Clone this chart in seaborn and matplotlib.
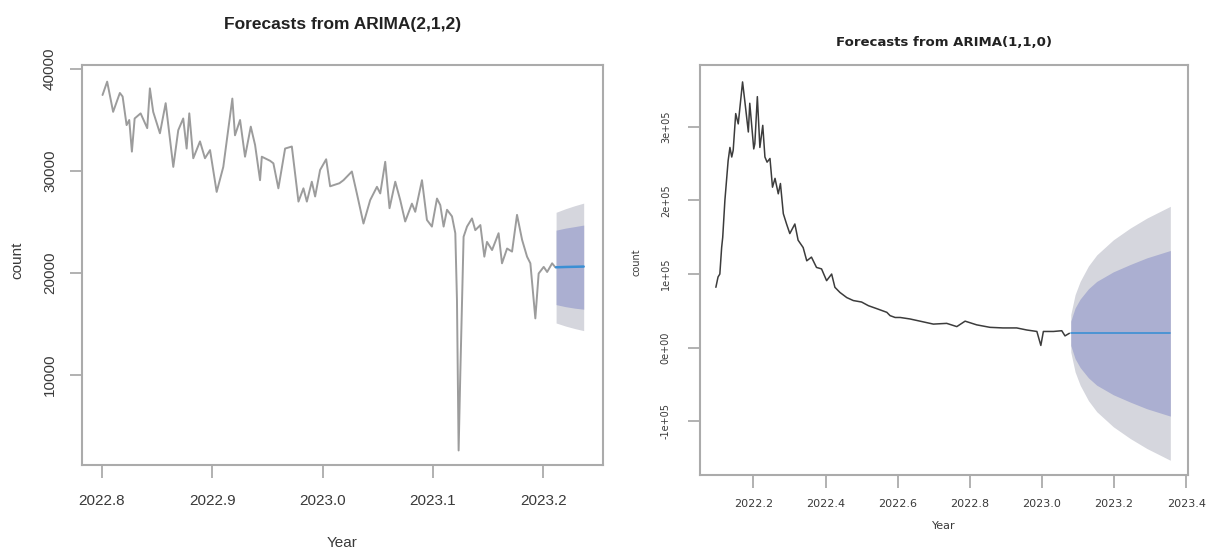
import numpy as np
import pandas as pd
import seaborn as sns
import matplotlib.pyplot as plt

# ---- left panel: ARIMA(2,1,2) on recent counts ----
left_year = [2022.8006, 2022.8048, 2022.8102, 2022.8163, 2022.8188, 2022.8224, 2022.8248, 2022.8272,
             2022.8297, 2022.8351, 2022.8411, 2022.8435, 2022.8465, 2022.8526, 2022.8578, 2022.8647,
             2022.8692, 2022.8737, 2022.8768, 2022.8792, 2022.8828, 2022.8889, 2022.8934, 2022.8980,
             2022.9040, 2022.9100, 2022.9182, 2022.9206, 2022.9252, 2022.9297, 2022.9349, 2022.9388,
             2022.9433, 2022.9449, 2022.9524, 2022.9554, 2022.9599, 2022.9660, 2022.9721, 2022.9781,
             2022.9826, 2022.9857, 2022.9902, 2022.9932, 2022.9977, 2023.0032, 2023.0068, 2023.0152,
             2023.0189, 2023.0265, 2023.0310, 2023.0370, 2023.0431, 2023.0492, 2023.0522, 2023.0567,
             2023.0606, 2023.0658, 2023.0703, 2023.0748, 2023.0809, 2023.0839, 2023.0900, 2023.0945,
             2023.0990, 2023.1036, 2023.1066, 2023.1096, 2023.1127, 2023.1172, 2023.1202, 2023.1217,
             2023.1232, 2023.1247, 2023.1277, 2023.1308, 2023.1353, 2023.1383, 2023.1429, 2023.1465,
             2023.1489, 2023.1535, 2023.1594, 2023.1625, 2023.1671, 2023.1716, 2023.1761, 2023.1807,
             2023.1852, 2023.1882, 2023.1927, 2023.1957, 2023.2003, 2023.2034, 2023.2079, 2023.2109]
left_count = [37450, 38760, 35800, 37650, 37300, 34500, 35000, 31900,
              35150, 35650, 34200, 38100, 35800, 33700, 36650, 30400,
              34000, 35150, 32200, 35650, 31250, 32900, 31250, 32050,
              27950, 30400, 37100, 33500, 35000, 31400, 34350, 32550,
              29100, 31400, 31000, 30750, 28300, 32200, 32400, 27000,
              28300, 27000, 28950, 27500, 30100, 31150, 28500, 28800,
              29100, 29950, 27800, 24850, 27150, 28450, 27800, 30900,
              26350, 28950, 27150, 25050, 26800, 26000, 29100, 25200,
              24550, 27300, 26650, 24550, 26200, 25550, 23900, 17350,
              2600, 10000, 23550, 24550, 25350, 24200, 24700, 21600,
              23050, 22250, 23900, 20950, 22400, 22100, 25700, 23250,
              21600, 20950, 15550, 19950, 20600, 20100, 20950, 20550]

left_fc_year = [2023.2115, 2023.2200, 2023.2285, 2023.2365]
left_fc_mean = [20560, 20590, 20610, 20630]
left_lo80 = [16900, 16700, 16550, 16450]
left_hi80 = [24200, 24400, 24550, 24700]
left_lo95 = [15100, 14800, 14550, 14350]
left_hi95 = [25950, 26300, 26600, 26850]

# ---- right panel: ARIMA(1,1,0) on the full series ----
right_year = [2022.096, 2022.102, 2022.107, 2022.112, 2022.115, 2022.121, 2022.130, 2022.135,
              2022.140, 2022.144, 2022.151, 2022.158, 2022.170, 2022.176, 2022.186, 2022.190,
              2022.201, 2022.204, 2022.211, 2022.218, 2022.226, 2022.232, 2022.238, 2022.246,
              2022.253, 2022.260, 2022.269, 2022.275, 2022.283, 2022.292, 2022.301, 2022.315,
              2022.324, 2022.338, 2022.348, 2022.361, 2022.375, 2022.389, 2022.403, 2022.417,
              2022.426, 2022.440, 2022.459, 2022.477, 2022.500, 2022.519, 2022.542, 2022.570,
              2022.579, 2022.593, 2022.607, 2022.634, 2022.662, 2022.699, 2022.736, 2022.764,
              2022.787, 2022.819, 2022.856, 2022.892, 2022.930, 2022.958, 2022.986, 2022.997,
              2023.004, 2023.032, 2023.055, 2023.064, 2023.076]
right_count = [0.82e5, 0.96e5, 1.00e5, 1.36e5, 1.50e5, 2.00e5, 2.54e5, 2.72e5,
               2.59e5, 2.68e5, 3.18e5, 3.04e5, 3.61e5, 3.36e5, 2.93e5, 3.32e5,
               2.70e5, 2.77e5, 3.41e5, 2.72e5, 3.02e5, 2.59e5, 2.52e5, 2.57e5,
               2.18e5, 2.30e5, 2.09e5, 2.23e5, 1.82e5, 1.68e5, 1.55e5, 1.68e5,
               1.46e5, 1.36e5, 1.18e5, 1.23e5, 1.09e5, 1.07e5, 0.91e5, 1.00e5,
               0.82e5, 0.75e5, 0.68e5, 0.64e5, 0.62e5, 0.57e5, 0.53e5, 0.48e5,
               0.435e5, 0.41e5, 0.41e5, 0.39e5, 0.36e5, 0.32e5, 0.33e5, 0.286e5,
               0.36e5, 0.31e5, 0.276e5, 0.268e5, 0.268e5, 0.24e5, 0.22e5, 0.03e5,
               0.22e5, 0.22e5, 0.23e5, 0.16e5, 0.195e5]

right_fc_year = [2023.080, 2023.092, 2023.106, 2023.129, 2023.152, 2023.198, 2023.245, 2023.291, 2023.356]
right_fc_mean = [0.195e5] * 9
right_hi95 = [0.45e5, 0.72e5, 0.90e5, 1.11e5, 1.26e5, 1.465e5, 1.625e5, 1.76e5, 1.92e5]
right_lo95 = [-0.06e5, -0.33e5, -0.51e5, -0.72e5, -0.87e5, -1.075e5, -1.235e5, -1.37e5, -1.53e5]
right_hi80 = [0.36e5, 0.54e5, 0.66e5, 0.80e5, 0.90e5, 1.03e5, 1.13e5, 1.22e5, 1.32e5]
right_lo80 = [0.03e5, -0.15e5, -0.27e5, -0.41e5, -0.51e5, -0.64e5, -0.74e5, -0.83e5, -0.93e5]

sns.set_theme(style='white')
plt.rcParams['font.family'] = ['Liberation Sans', 'DejaVu Sans']

OUTER = '#d5d6dd'
INNER = '#abafd1'
FCLINE = '#3b8fd4'
FRAME = '#ababab'
TXT = '#3a3a3a'

fig = plt.figure(figsize=(12.1, 5.5), dpi=100)
ax1 = fig.add_axes([82 / 1210, 85 / 550, 521 / 1210, 400 / 550])
ax2 = fig.add_axes([700 / 1210, 75 / 550, 488 / 1210, 410 / 550])


def style_axes(ax, lsize, fam, xpad, ypad):
    for s in ax.spines.values():
        s.set_color(FRAME)
        s.set_linewidth(1.5)
    ax.tick_params(axis='both', direction='out', length=9, width=1.3, color=FRAME,
                   labelcolor=TXT, labelsize=lsize, bottom=True, left=True)
    ax.tick_params(axis='x', pad=xpad)
    ax.tick_params(axis='y', pad=ypad)
    for lab in ax.get_xticklabels() + ax.get_yticklabels():
        lab.set_family(fam)
    plt.setp(ax.get_yticklabels(), rotation=90, va='center', ha='right')
    ax.set_xlabel('')
    ax.set_ylabel('')
    ax.grid(False)


# left panel
df_l = pd.DataFrame({'Year': left_year, 'count': left_count})
ax1.fill_between(left_fc_year, left_lo95, left_hi95, color=OUTER, linewidth=0)
ax1.fill_between(left_fc_year, left_lo80, left_hi80, color=INNER, linewidth=0)
sns.lineplot(data=df_l, x='Year', y='count', ax=ax1, color='#9c9c9c', linewidth=1.4,
             estimator=None, sort=False)
sns.lineplot(x=left_fc_year, y=left_fc_mean, ax=ax1, color=FCLINE, linewidth=1.8,
             estimator=None, sort=False)
ax1.set_xlim(2022.782, 2023.254)
ax1.set_ylim(1176, 40392)
ax1.set_xticks([2022.8, 2022.9, 2023.0, 2023.1, 2023.2])
ax1.set_xticklabels(['2022.8', '2022.9', '2023.0', '2023.1', '2023.2'])
ax1.set_yticks([10000, 20000, 30000, 40000])
ax1.set_yticklabels(['10000', '20000', '30000', '40000'])
style_axes(ax1, 11, 'Liberation Sans', 12, 9)

# right panel
df_r = pd.DataFrame({'Year': right_year, 'count': right_count})
ax2.fill_between(right_fc_year, right_lo95, right_hi95, color=OUTER, linewidth=0)
ax2.fill_between(right_fc_year, right_lo80, right_hi80, color=INNER, linewidth=0)
sns.lineplot(data=df_r, x='Year', y='count', ax=ax2, color='#3c3c3c', linewidth=1.1,
             estimator=None, sort=False)
sns.lineplot(x=right_fc_year, y=right_fc_mean, ax=ax2, color=FCLINE, linewidth=1.2,
             estimator=None, sort=False)
ax2.set_xlim(2022.052, 2023.405)
ax2.set_ylim(-1.73e5, 3.84e5)
ax2.set_xticks([2022.2, 2022.4, 2022.6, 2022.8, 2023.0, 2023.2, 2023.4])
ax2.set_xticklabels(['2022.2', '2022.4', '2022.6', '2022.8', '2023.0', '2023.2', '2023.4'])
ax2.set_yticks([-1e5, 0, 1e5, 2e5, 3e5])
ax2.set_yticklabels(['-1e+05', '0e+00', '1e+05', '2e+05', '3e+05'])
style_axes(ax2, 8, 'DejaVu Sans', 8, 12)
plt.setp(ax2.get_yticklabels(), fontsize=7)

# titles and axis labels (R-style placement)
fig.text(343 / 1210, 1 - 25 / 550, 'Forecasts from ARIMA(2,1,2)', ha='center', va='center',
         fontsize=12.5, fontweight='bold', color='#222222', family='Liberation Sans')
fig.text(944 / 1210, 1 - 43 / 550, 'Forecasts from ARIMA(1,1,0)', ha='center', va='center',
         fontsize=9.5, fontweight='bold', color='#222222', family='DejaVu Sans')
fig.text(342 / 1210, 1 - 543 / 550, 'Year', ha='center', va='center', fontsize=11,
         color=TXT, family='Liberation Sans')
fig.text(17 / 1210, 1 - 260 / 550, 'count', ha='center', va='center', fontsize=11,
         rotation=90, color=TXT, family='Liberation Sans')
fig.text(944 / 1210, 1 - 526 / 550, 'Year', ha='center', va='center', fontsize=8,
         color=TXT, family='DejaVu Sans')
fig.text(637 / 1210, 1 - 262 / 550, 'count', ha='center', va='center', fontsize=7,
         rotation=90, color=TXT, family='DejaVu Sans')

fig.savefig('out.png', dpi=100)
plt.close(fig)
